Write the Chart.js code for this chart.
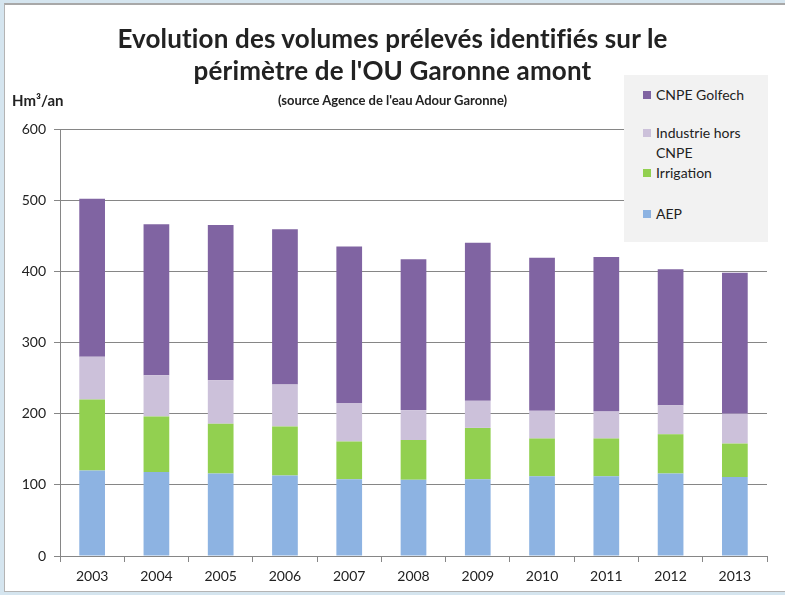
<!DOCTYPE html>
<html>
<head>
<meta charset="utf-8">
<script src="https://cdn.jsdelivr.net/npm/chart.js@4"></script>
<style>
    html, body { margin: 0; padding: 0; background: #ffffff; }
    #frame {
        position: relative;
        width: 785px;
        height: 595px;
        box-sizing: border-box;
        border-left: 4px solid #d5e5ef;
        border-top: 3px solid #d5e5ef;
        border-bottom: 3px solid #d5e5ef;
        overflow: hidden;
        font-family: Lato, "Noto Sans", sans-serif;
        color: #222;
    }
    #inner {
        position: absolute;
        left: 0; top: 0; right: 0; bottom: 0;
        border-left: 1px solid #b4b4b4;
        border-top: 2px solid #a8a8a8;
        border-bottom: 1px solid #b4b4b4;
    }
    #chart-box { position: absolute; left: -5px; top: -5px; width: 785px; height: 595px; }
    .title { position: absolute; left: -5px; width: 785px; text-align: center; font-weight: bold; white-space: nowrap; }
    #title1 { top: 17px; font-size: 26px; letter-spacing: 0.15px; }
    #title2 { top: 49px; font-size: 26px; letter-spacing: 0.15px; }
    #subtitle { top: 87px; font-size: 13px; }
    #unit { position: absolute; left: 7px; top: 86px; font-size: 15px; font-weight: bold; }
    #legend {
        position: absolute;
        left: 619px; top: 70px;
        width: 144px; height: 167px;
        background: #f2f2f2;
        font-size: 14px;
        color: #222;
    }
    .legend-item { position: absolute; left: 19px; width: 122px; line-height: 20px; display: flex; align-items: flex-start; }
    .legend-swatch { flex: 0 0 auto; width: 8px; height: 8px; margin: 6px 5px 0 0; }
</style>
</head>
<body>
<div id="frame">
    <div id="inner">
        <div id="chart-box"><canvas id="volumes-chart" width="785" height="595"></canvas></div>
        <div class="title" id="title1">Evolution des volumes prélevés identifiés sur le</div>
        <div class="title" id="title2">périmètre de l'OU Garonne amont</div>
        <div class="title" id="subtitle">(source Agence de l'eau Adour Garonne)</div>
        <div id="unit">Hm³/an</div>
        <div id="legend"></div>
    </div>
</div>

<script>
// =========================================================
// DATA
// =========================================================

    const years = ["2003", "2004", "2005", "2006", "2007", "2008", "2009", "2010", "2011", "2012", "2013"];

    const aepValues = [120, 118, 116, 113, 108, 107, 108, 112, 112, 116, 111];
    const irrigationValues = [100, 78, 70, 69, 53, 56, 72, 53, 53, 55, 47];
    const industrieValues = [60, 58, 61, 59, 54, 42, 38, 39, 38, 41, 42];
    const golfechValues = [222, 212, 218, 218, 220, 212, 222, 215, 217, 191, 198];

    const seriesNames = ["AEP", "Irrigation", "Industrie hors CNPE", "CNPE Golfech"];
    const seriesColors = ["#8db3e2", "#92d050", "#ccc1da", "#8064a2"];

    // legend rows, top to bottom (y offsets inside the legend box)
    const legendTops = [10, 48, 88, 129];

// =========================================================
// CHART
// =========================================================

    const axisColor = "#868686";
    const tickFont = { family: "Lato, 'Noto Sans', sans-serif", size: 14 };

    const seriesValues = [aepValues, irrigationValues, industrieValues, golfechValues];

    const datasets = seriesNames.map(function (name, index) {
        return {
            label: name,
            data: seriesValues[index],
            backgroundColor: seriesColors[index],
            borderWidth: 0,
            barPercentage: 0.4,
            categoryPercentage: 1
        };
    });

    const chartCanvas = document.getElementById("volumes-chart");

    new Chart(chartCanvas, {
        type: "bar",
        data: {
            labels: years,
            datasets: datasets
        },
        options: {
            responsive: false,
            animation: false,
            layout: {
                padding: { left: 0, right: 18, top: 129, bottom: 0 }
            },
            plugins: {
                legend: { display: false },
                tooltip: { enabled: false }
            },
            scales: {
                x: {
                    stacked: true,
                    grid: {
                        offset: true,
                        drawOnChartArea: false,
                        drawTicks: true,
                        tickLength: 6,
                        color: axisColor
                    },
                    border: { display: true, color: axisColor },
                    ticks: { color: "#222", font: tickFont, padding: 6 },
                    afterFit: function (scale) { scale.height = 39; }
                },
                y: {
                    stacked: true,
                    min: 0,
                    max: 600,
                    grid: {
                        color: axisColor,
                        tickLength: 6
                    },
                    border: { display: true, color: axisColor },
                    ticks: { stepSize: 100, color: "#222", font: tickFont, padding: 8 },
                    afterFit: function (scale) { scale.width = 60; }
                }
            }
        }
    });

// =========================================================
// LEGEND (top series first, like the original)
// =========================================================

    const legendBox = document.getElementById("legend");

    for (let rowIndex = 0; rowIndex < seriesNames.length; rowIndex++) {
        const seriesIndex = seriesNames.length - 1 - rowIndex;
        const item = document.createElement("div");
        item.className = "legend-item";
        item.style.top = legendTops[rowIndex] + "px";

        const swatch = document.createElement("span");
        swatch.className = "legend-swatch";
        swatch.style.background = seriesColors[seriesIndex];

        const label = document.createElement("span");
        label.textContent = seriesNames[seriesIndex];

        item.appendChild(swatch);
        item.appendChild(label);
        legendBox.appendChild(item);
    }
</script>
</body>
</html>
